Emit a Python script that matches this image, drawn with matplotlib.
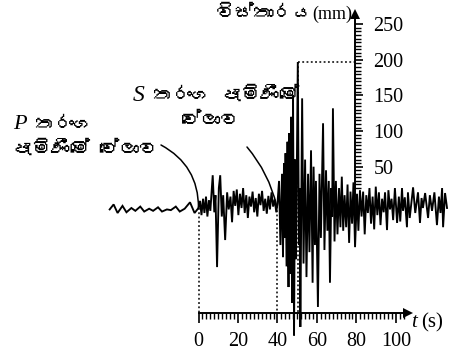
import matplotlib
matplotlib.use('Agg')
import matplotlib.pyplot as plt
from matplotlib import font_manager
from matplotlib.ft2font import FT2Font
import numpy as np

# ---------------- data ----------------
pre_t = [-45, -43, -41, -38.5, -36.5, -34, -32, -29.5, -27.5, -25, -23, -20.5,
         -18.5, -16, -14, -11.5, -9.5, -7, -4.3, -2]
pre_amp = [-10, -3, -15, -5, -14, -8, -12, -6, -13, -9, -12, -7,
           -13, -10, -11, -6, -13, -9, 0, -15]

p_t = [0, 0.8, 1.5, 2.3, 3, 3.8, 4.5, 5.3, 6, 7.2, 8, 8.6, 9.4, 10.3, 11, 11.8,
       12.5, 13.5, 14.5, 15.3, 16.2, 17, 17.8, 18.6, 19.4, 20.2, 21, 21.8, 22.6,
       23.4, 24.2, 25, 25.8, 26.6, 27.4, 28.2, 29, 29.8, 30.6, 31.4, 32.2, 33,
       33.8, 34.6, 35.4, 36.2, 37, 37.8, 38.6, 39.4, 40]
p_amp = [-8, 2, -18, 5, -15, 8, -20, 3, -12, 38, -14, 10, -91, 20, 38, -20,
         10, -53, 14, -10, 8, -28, 16, -5, 18, -18, 12, -8, 20,
         -15, 10, -22, 8, -6, 15, -14, 6, -20, 12, -4, 16, -12,
         5, -16, 9, -10, 14, -6, 4, -14, -2]

s_t = [40.8, 41.5, 42.3, 42.8, 43.3, 43.8, 44.1, 44.6, 45.1, 45.6, 45.9, 46.4,
       46.9, 47.4, 47.9, 48.4, 48.9, 49.4, 50.3, 50.9, 51.2, 51.6, 52.5, 53.2,
       54.0, 54.7, 55.5, 56.2, 57.0, 57.8, 58.3, 59.0, 59.5, 60.5, 61.3, 62.0,
       63.1, 63.8, 64.6, 65.3, 66.0, 66.6, 67.3, 67.7, 68.1, 68.9, 69.6, 70.4,
       71.2, 71.9]
s_amp = [30, -60, 40, -77, 55, -50, 69, -90, 85, -119, 97, -100,
         120, -141, 150, -187, 60, -80, 197, -60, 20, -175, 146, -86,
         60, -105, 40, -70, 73, -113, 50, -60, 30, -147, 40, -50,
         111, -67, 45, -40, 30, -113, 20, -20, 132, -55, 30, -45,
         20, -35]

coda_t = [72.6, 73.3, 74.0, 74.8, 75.5, 76.3, 77.0, 77.8, 78.5, 79.3, 80.3,
          81.0, 81.8, 82.6, 83.4, 84.2, 85.0, 85.8, 86.6, 87.4, 88.2, 89.0,
          89.8, 90.6, 91.4, 92.2, 93.0, 93.8, 94.5, 95.5, 96.2, 97.0, 97.8,
          98.6, 99.5, 100.6, 101.5, 102.2, 103.1, 103.6, 104.5, 105.6, 106.1,
          107.0, 108.7, 109.8, 111.2, 112.2, 113.0, 113.7, 114.8, 116.3, 117.2,
          118.3, 119.5, 120.8, 121.8, 122.6, 123.4, 123.9, 124.9, 125.9]
coda_amp = [36, -40, 10, -35, 25, -57, 15, -30, 28, -63, 12,
            -40, 17, -20, 15, -45, 10, -15, 20, -30, 8, -38,
            22, -18, 14, -32, 5, -14, 14, -39, 17, -10, 5,
            -25, 20, -29, 8, -27, 20, -12, 7, -35, 14,
            -22, 21, -15, 14, -29, 6, -8, 13, -22, 10,
            -12, 14, -32, 8, -15, 20, -35, 13, -8]

x_ticks = [0, 20, 40, 60, 80, 100]
y_ticks = [50, 100, 150, 200, 250]
p_arrival = 0
s_arrival = 39.6
peak_t, peak_amp = 50.3, 197

# ---------------- fonts ----------------
def find_font(ch):
    seen = set()
    for f in font_manager.fontManager.ttflist:
        if f.fname in seen:
            continue
        seen.add(f.fname)
        try:
            cm = FT2Font(f.fname).get_charmap()
        except Exception:
            continue
        if ord(ch) in cm:
            return f.name
    return None

sin_font = find_font('\u0dc0')
serif = 'Liberation Serif'
sin_family = [sin_font, serif] if sin_font else [serif, 'DejaVu Sans']
plt.rcParams['font.family'] = [serif, 'DejaVu Sans']

W, H = 459, 356
fig = plt.figure(figsize=(W / 100, H / 100), dpi=100)
ax = fig.add_axes([0, 0, 1, 1])
ax.patch.set_visible(False)

# pixel mapping: x = 198.5 + 1.974 t ; y(top) = 202.3 - 0.712 amp
ax.set_xlim(-198.5 / 1.974, (W - 198.5) / 1.974)
ax.set_ylim(-(H - 202.3) / 0.712, 202.3 / 0.712)

t_axis_level = -155.5
amp_axis_pos = 79.5

# trace
t_all = pre_t + p_t + s_t + coda_t
a_all = pre_amp + p_amp + s_amp + coda_amp
ax.plot(t_all, a_all, color='black', lw=1.35, solid_joinstyle='miter')

# dotted guide lines
dot = dict(color='black', lw=1.1, ls=(0, (1.2, 1.6)))
ax.plot([p_arrival, p_arrival], [-8, t_axis_level], **dot)
ax.plot([s_arrival, s_arrival], [-5, t_axis_level], **dot)
ax.plot([peak_t, peak_t], [peak_amp, t_axis_level], **dot)
ax.plot([peak_t, amp_axis_pos], [peak_amp, peak_amp], **dot)

# axes
for s in ['top', 'left']:
    ax.spines[s].set_visible(False)
ax.spines['bottom'].set_position(('data', t_axis_level))
ax.spines['bottom'].set_bounds(0, 106)
ax.spines['right'].set_position(('data', amp_axis_pos))
ax.spines['right'].set_bounds(-53, 264)
for s in ['bottom', 'right']:
    ax.spines[s].set_linewidth(1.4)
ax.xaxis.set_ticks_position('bottom')
ax.yaxis.set_ticks_position('right')
ax.set_xticks(x_ticks)
ax.set_xticks(np.arange(0, 105, 2), minor=True)
ax.set_yticks(y_ticks)
ax.set_yticks(np.arange(20, 255, 5), minor=True)
ax.tick_params(axis='x', which='major', direction='out', length=7, width=1.2,
               pad=7, labelsize=14.5)
ax.tick_params(axis='x', which='minor', direction='out', length=4.5, width=1)
ax.tick_params(axis='y', which='major', direction='out', length=6, width=1.2,
               pad=7, labelsize=14.5)
ax.tick_params(axis='y', which='minor', direction='out', length=4, width=1)

# arrow heads
ax.plot([106], [t_axis_level], marker='>', color='black', ms=7, mew=0)
ax.plot([amp_axis_pos], [264], marker='^', color='black', ms=7, mew=0)

def fp(x, y):
    return (x / W, 1 - y / H)

# axis labels
fig.text(*fp(352, 19), '(mm)', ha='right', va='baseline', fontsize=13,
         family=serif)
fig.text(*fp(313, 19), 'විස්තාරය', ha='right', va='baseline', fontsize=14,
         family=sin_family)
fig.text(*fp(411, 327), 't', ha='left', va='baseline', fontsize=15,
         family=serif, style='italic')
fig.text(*fp(421, 327), '(s)', ha='left', va='baseline', fontsize=15,
         family=serif)

# annotations
fig.text(*fp(13, 129), 'P', ha='left', va='baseline', fontsize=16,
         family=serif, style='italic')
fig.text(*fp(35, 130), 'තරංග', ha='left', va='baseline', fontsize=14,
         family=sin_family)
fig.text(*fp(12, 155), 'පැමිණීමේ වේලාව', ha='left', va='baseline',
         fontsize=14, family=sin_family)
fig.text(*fp(133, 101), 'S', ha='left', va='baseline', fontsize=17,
         family=serif, style='italic')
fig.text(*fp(153, 101), 'තරංග පැමිණීමේ', ha='left', va='baseline',
         fontsize=14, family=sin_family)
fig.text(*fp(182, 126), 'වේලාව', ha='left', va='baseline', fontsize=14,
         family=sin_family)

ax.annotate('', xy=(p_arrival, -8), xytext=(161, H - 145),
            textcoords='figure pixels',
            arrowprops=dict(arrowstyle='-', color='black', lw=1.1,
                            shrinkA=0, shrinkB=0,
                            connectionstyle='arc3,rad=-0.3'))
ax.annotate('', xy=(s_arrival, -5), xytext=(247, H - 147),
            textcoords='figure pixels',
            arrowprops=dict(arrowstyle='-', color='black', lw=1.1,
                            shrinkA=0, shrinkB=0,
                            connectionstyle='arc3,rad=-0.12'))

fig.savefig('out.png', dpi=100)
